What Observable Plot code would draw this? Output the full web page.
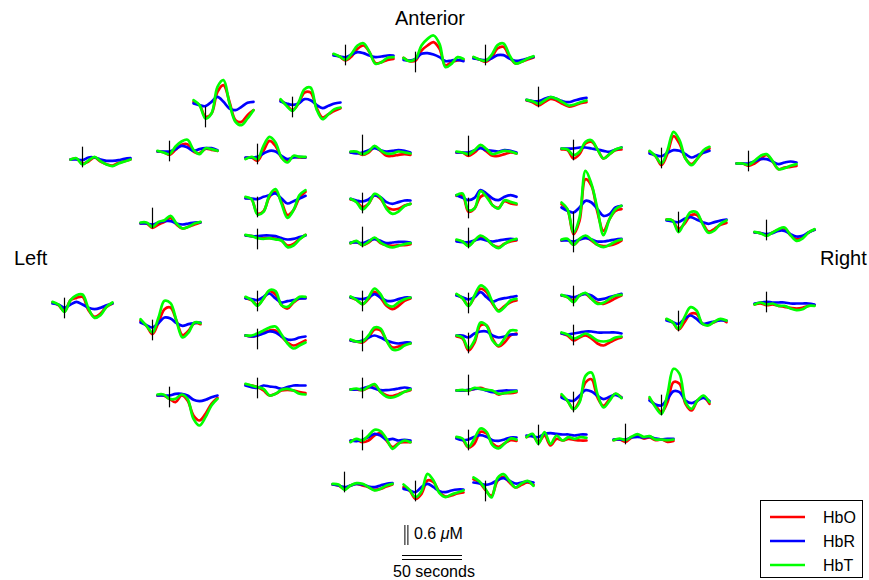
<!DOCTYPE html>
<html><head><meta charset="utf-8">
<script src="https://cdn.jsdelivr.net/npm/d3@7"></script>
<script src="https://cdn.jsdelivr.net/npm/@observablehq/plot@0.6"></script>
<style>
body{margin:0;background:#fff;}
#chart{position:relative;width:869px;height:580px;overflow:hidden;font-family:"Liberation Sans",Arial,Helvetica,sans-serif;color:#000;}
#chart svg{overflow:visible;}
.lbl{position:absolute;white-space:nowrap;line-height:1;}
</style></head><body><div id="chart"></div>
<script>
// time axis (seconds relative to stimulus onset)
const times = [-10,-5,0,5,10,15,20,25,30,35,40];
const seriesNames = ["HbO","HbR","HbT"];
const seriesColors = ["#ff0000","#0000ff","#00ff00"];

// HbO per channel (μM)
const hbo = [
[0,0.02,-0.12,-0.06,0.06,-0.06,-0.14,-0.18,-0.1,-0.05,0],
[0,-0.02,-0.1,0.05,0.2,0.22,0,-0.05,0.08,0.05,0.02],
[0.05,-0.05,-0.4,-0.3,0.35,0.55,0.05,-0.5,-0.55,-0.35,-0.2],
[0.06,0,-0.12,0,0.23,0.33,0.13,-0.2,-0.17,-0.1,-0.07],
[0.08,-0.02,0,0.3,0.45,0.55,0.35,-0.15,-0.05,0,0.02],
[0.07,-0.07,-0.23,-0.03,0.3,0.3,-0.15,-0.45,-0.35,-0.25,-0.17],
[-0.02,0,-0.1,0.2,0.5,0.35,0,-0.1,0.02,0,0],
[0,0,-0.07,0,0.15,0.05,-0.1,-0.1,-0.07,-0.05,-0.07],
[0.03,-0.03,-0.1,0.03,0.3,0.35,0.05,-0.15,-0.1,-0.03,0.03],
[0,-0.05,-0.15,-0.05,0.05,0,-0.1,-0.18,-0.15,-0.08,-0.05],
[0,0,-0.1,0,0.15,0.03,-0.1,-0.1,-0.05,0,-0.03],
[-0.03,-0.05,-0.3,-0.17,0.15,0.2,-0.03,-0.3,-0.17,-0.05,-0.03],
[0.05,-0.08,-0.35,0,0.52,0.3,-0.15,-0.32,-0.15,0.05,0.15],
[0,0,-0.07,0,0.13,0.26,0.06,-0.17,-0.12,-0.1,-0.07],
[0,0,-0.13,-0.03,0.05,0.17,-0.03,-0.15,-0.1,-0.03,0.03],
[0.03,-0.05,-0.23,0.1,0.17,0.2,-0.2,-0.4,-0.3,-0.1,0],
[0.05,-0.1,-0.35,0,0.4,0.45,0.05,-0.38,-0.25,-0.02,-0.05],
[0.02,-0.02,-0.45,-0.38,0.05,0.2,-0.1,-0.5,-0.35,0.02,0.2],
[0,-0.02,-0.05,-0.08,-0.08,-0.1,-0.15,-0.3,-0.25,-0.1,0.02],
[0.03,-0.03,-0.2,-0.1,0.17,0.05,-0.2,-0.27,-0.25,-0.15,-0.1],
[-0.02,0.02,-0.08,0,0.12,-0.02,-0.08,-0.1,-0.08,-0.08,-0.05],
[0.02,-0.05,-0.2,0,0.22,0.12,-0.2,-0.3,-0.12,0,0.02],
[0,-0.03,0,0.09,0.15,0.15,-0.03,-0.21,-0.3,-0.24,-0.15],
[0,-0.07,-0.2,-0.05,0.17,0,-0.25,-0.35,-0.25,-0.1,-0.03],
[0,-0.03,-0.06,0.09,0.33,0.3,0,-0.21,-0.18,-0.12,-0.09],
[0.08,0.1,-0.4,-0.3,0.05,0.1,-0.2,-0.28,-0.08,-0.15,-0.18],
[0.1,-0.07,-0.8,-0.4,0.85,0.65,-0.15,-0.7,-0.35,-0.1,-0.05],
[0.03,0,-0.12,0.03,0.13,0.06,-0.1,-0.17,-0.07,0,0.03],
[0,0.03,-0.13,0.03,0.1,0,-0.13,-0.17,-0.15,-0.1,0],
[0.02,-0.08,-0.3,-0.05,0.2,0.1,-0.25,-0.45,-0.32,-0.2,-0.15],
[0,-0.05,-0.15,0,0.05,-0.1,-0.22,-0.25,-0.18,-0.08,0],
[-0.03,-0.09,-0.45,-0.21,0.3,0.3,-0.09,-0.33,-0.21,0,0.06],
[0,-0.06,-0.21,-0.12,-0.06,-0.15,-0.3,-0.36,-0.27,-0.18,-0.12],
[0.03,0,-0.25,-0.1,0.15,0.17,-0.07,-0.33,-0.25,-0.13,-0.07],
[0,-0.02,-0.08,0,0.08,0.12,-0.08,-0.2,-0.15,0,0.08],
[0.03,-0.05,-0.27,-0.05,0.2,0.2,-0.1,-0.1,-0.05,0.03,-0.05],
[-0.03,0,-0.05,-0.03,-0.07,-0.1,-0.13,-0.15,-0.13,-0.07,-0.05],
[0,0,-0.1,-0.2,0,-0.15,-0.6,-0.75,-0.55,-0.25,-0.07],
[0.03,0,-0.05,-0.15,-0.3,-0.25,-0.15,-0.13,-0.15,-0.2,-0.23],
[0,0,-0.02,0.06,0.13,-0.07,-0.17,-0.2,-0.14,-0.07,-0.02],
[-0.02,0.02,-0.05,0,0.15,0.22,0,-0.2,-0.08,-0.05,-0.05],
[0,-0.03,-0.13,-0.03,0.02,-0.03,-0.08,-0.16,-0.13,-0.06,0],
[0.1,0,-0.25,-0.1,0.3,0.25,-0.05,-0.18,-0.15,-0.09,-0.06],
[0,0,0,0.05,0.08,0.02,-0.02,-0.12,-0.08,-0.08,-0.05],
[0.05,-0.1,-0.35,-0.1,0.45,0.55,0,-0.25,-0.05,0.1,0],
[0.03,-0.03,-0.27,-0.15,0.2,0.15,-0.15,-0.25,-0.15,-0.05,-0.07],
[-0.05,0,-0.2,0,-0.3,-0.1,-0.15,-0.1,-0.13,-0.15,-0.15],
[-0.02,0,-0.07,0.06,0.13,0.03,0.06,-0.02,0,-0.07,-0.04],
[0.13,0.03,-0.2,-0.37,0.08,0.2,0.03,-0.12,-0.04,0.03,-0.04],
[0.05,-0.15,-0.35,-0.05,0.55,0.5,-0.1,-0.3,0,0.1,-0.1]
];

// HbR per channel (μM)
const hbr = [
[0,0,-0.02,0.06,0.06,0,-0.04,-0.04,-0.02,0.02,0.04],
[0,0,0,0.07,0.17,0.12,0.02,0.07,0.1,0.1,0.04],
[0,-0.05,-0.08,0.05,0.2,0.05,-0.15,-0.2,-0.1,0.02,0.05],
[0.03,0,-0.02,0.06,0.13,0.1,0.03,-0.02,0,0.03,0.03],
[0.02,0,0.05,0.2,0.22,0.18,0.1,-0.02,0,0.02,-0.02],
[0.03,-0.03,-0.07,-0.03,0.1,0.07,-0.07,-0.17,-0.1,-0.03,0],
[0,0,0.02,0.12,0.2,0.18,0.05,-0.05,0,0.02,0],
[0,-0.03,0,0.07,0.13,0.07,0.03,0.05,0.07,0.05,0],
[0,-0.03,-0.05,0,0.1,0.1,0,-0.07,-0.05,0,0.05],
[0.02,-0.02,-0.02,0.05,0.1,0.05,-0.02,-0.05,0,0.05,0.08],
[0,0,0,0.07,0.13,0.07,0.05,0.03,0.07,0.05,0],
[0,0,0,0.03,0.03,0,-0.03,-0.07,-0.1,-0.03,0.03],
[0,-0.05,-0.08,0.02,0.1,0.08,-0.02,-0.12,-0.05,0.02,0.08],
[0,0,0,0.06,0.13,0.13,0.06,-0.02,0.03,0.06,0.03],
[0,0,-0.03,0.03,0.07,0.07,0,-0.03,0,0.03,0.03],
[0,-0.03,-0.13,-0.03,0.05,-0.03,-0.13,-0.17,-0.13,-0.05,0],
[0,-0.08,-0.15,-0.02,0.15,0.12,-0.02,-0.1,-0.05,-0.02,0],
[0,0,-0.02,0.05,0.1,0.15,0,-0.15,-0.08,0,0.08],
[0,-0.02,-0.02,0,0,-0.02,-0.08,-0.12,-0.1,-0.05,0],
[0.05,0,-0.03,0.03,0.15,0.1,-0.05,-0.1,-0.05,0,0],
[0,0,-0.02,0.05,0.1,0.05,-0.02,0,0.02,0.02,0],
[0,-0.02,-0.05,0.05,0.15,0,-0.12,-0.08,-0.05,0,0],
[0,-0.03,0,0.06,0.12,0.09,-0.03,-0.12,-0.12,-0.06,-0.03],
[0,-0.03,-0.05,0,0.1,0,-0.1,-0.1,-0.05,0,0],
[0,-0.03,0,0.09,0.15,0.09,0,-0.06,-0.09,-0.06,-0.06],
[0.1,0.02,-0.05,0.02,0.25,0.15,0,-0.05,0.05,0.1,0.05],
[0,-0.1,-0.15,0,0.2,0.15,-0.05,-0.25,-0.2,0,0.05],
[0,-0.02,-0.02,0.03,0.08,0.03,0,0.03,0.06,0.08,0.06],
[0,0,-0.03,0.03,0.07,0.03,-0.03,-0.03,0,0.03,0.05],
[0,-0.05,-0.12,-0.05,0.1,-0.05,-0.18,-0.12,-0.08,-0.05,-0.02],
[0,-0.02,-0.05,0,0.05,0,-0.12,-0.1,-0.05,0,0.05],
[0,0,-0.06,0.06,0.12,0.12,0,-0.06,-0.03,0.03,0.03],
[0,-0.03,0,0.03,0.06,0.06,0.03,0.03,0.03,0.03,0],
[0,-0.03,-0.05,0.05,0.1,0.03,-0.05,-0.1,-0.05,0,0.03],
[0,-0.02,-0.05,-0.02,0.05,0.05,-0.05,-0.12,-0.1,0,0.08],
[0,-0.05,-0.1,0.05,0.15,0.05,-0.1,-0.07,-0.03,0,0],
[0,0.03,0.05,0.03,0.03,0.03,0,0,0,0,-0.03],
[0,0,0,0.05,0.05,0,-0.13,-0.17,-0.13,-0.05,0],
[0,-0.05,-0.07,0,-0.03,-0.05,-0.1,-0.05,0,0,0],
[0,0,0.03,0.08,0.03,-0.02,-0.02,0,0.03,0.06,0.03],
[0,-0.02,0.02,0.1,0.2,0.15,0.02,0.05,0,0.02,0],
[0,-0.03,-0.08,-0.03,0.02,0,-0.06,-0.08,-0.03,0.02,0.04],
[0.05,0,-0.05,0.1,0.2,0.1,-0.02,-0.05,0,0.03,0.03],
[0,0,0.02,0.05,0.05,0,-0.05,-0.02,0,0,0],
[0,-0.08,-0.1,0.05,0.22,0.18,0.05,-0.05,0.02,0.08,0],
[0,-0.05,-0.03,0.05,0.1,0.05,-0.05,-0.07,-0.03,0.03,0.03],
[0,-0.03,-0.05,0.05,0.07,0.05,0.03,0.03,0,0.03,0.03],
[0,0,0,0.06,0.08,0.06,0.08,0.03,0,0.02,0.02],
[0.03,0,-0.04,0,0.1,0.16,0.08,0,0.03,0.06,0.03],
[0,-0.12,-0.15,0.05,0.28,0.25,0,-0.08,0,0.08,-0.02]
];

// HbT per channel (μM)
const hbt = [
[0,0.04,-0.15,-0.03,0.08,-0.05,-0.15,-0.2,-0.12,-0.06,0],
[0.02,-0.03,-0.08,0.15,0.3,0.35,0.05,-0.08,0.1,0.07,0.02],
[0.1,-0.05,-0.45,-0.3,0.5,0.7,0,-0.55,-0.65,-0.45,-0.2],
[0.08,0,-0.1,0.08,0.33,0.4,0.13,-0.22,-0.17,-0.04,-0.02],
[0.08,-0.02,0.05,0.45,0.65,0.75,0.5,-0.2,-0.1,0.1,0.05],
[0.1,-0.1,-0.25,0,0.4,0.45,-0.2,-0.5,-0.35,-0.2,-0.15],
[-0.05,0.02,-0.05,0.35,0.62,0.45,0,-0.15,0.05,0.02,0.02],
[0.03,0.03,-0.05,0.03,0.2,0.07,-0.03,-0.03,0.03,0,-0.03],
[0.05,-0.03,-0.07,0.1,0.4,0.45,0.1,-0.15,-0.1,0,0.07],
[0.02,-0.02,-0.1,0,0.1,0.05,-0.05,-0.15,-0.12,-0.05,0],
[0.03,0,-0.05,0.07,0.23,0.1,-0.05,0,0.05,0.03,-0.03],
[0,-0.03,-0.2,-0.1,0.2,0.25,-0.03,-0.3,-0.17,-0.03,0.03],
[0.08,-0.08,-0.3,0.1,0.65,0.4,-0.15,-0.35,-0.15,0.1,0.2],
[0,0,-0.04,0.08,0.23,0.28,0.08,-0.17,-0.14,-0.07,-0.02],
[0.03,0.03,-0.1,0.05,0.1,0.23,0,-0.15,-0.1,0,0.05],
[0.05,-0.03,-0.25,0.1,0.25,0.27,-0.15,-0.43,-0.35,-0.1,0.03],
[0.1,-0.1,-0.3,0.15,0.65,0.58,0.05,-0.45,-0.3,0,-0.02],
[0.05,-0.02,-0.48,-0.4,0.1,0.28,-0.15,-0.58,-0.35,0.1,0.25],
[0.02,-0.02,-0.08,-0.1,-0.08,-0.12,-0.15,-0.35,-0.3,-0.12,0.02],
[0.05,-0.05,-0.27,-0.1,0.2,0.1,-0.25,-0.4,-0.33,-0.17,-0.1],
[-0.02,0.05,-0.08,0.02,0.15,0,-0.1,-0.15,-0.1,-0.05,-0.02],
[0.05,-0.05,-0.22,0,0.25,0.22,-0.2,-0.25,-0.1,0.05,0.05],
[0,0,0.06,0.15,0.24,0.27,0.03,-0.24,-0.39,-0.3,-0.21],
[0.03,-0.07,-0.2,0,0.27,0.1,-0.2,-0.27,-0.15,-0.05,0],
[0.03,-0.03,-0.03,0.15,0.39,0.36,0,-0.27,-0.27,-0.15,-0.09],
[0.1,0.15,-0.35,-0.3,0.22,0.05,-0.2,-0.3,-0.05,-0.1,-0.15],
[0.15,-0.05,-0.75,-0.3,1.1,0.7,-0.05,-0.83,-0.35,-0.05,0.05],
[0.06,0,-0.14,0.03,0.18,0.08,-0.1,-0.2,-0.07,0.03,0.08],
[0.03,0.05,-0.13,0.05,0.15,0.03,-0.13,-0.2,-0.13,-0.03,0.03],
[0.05,-0.08,-0.32,0,0.3,0.18,-0.2,-0.48,-0.35,-0.15,-0.1],
[0.02,-0.05,-0.2,0,0.08,-0.1,-0.25,-0.22,-0.1,0,0.02],
[0,-0.06,-0.39,-0.15,0.39,0.3,-0.15,-0.3,-0.09,0.15,0.15],
[0.03,-0.03,-0.15,-0.09,0,-0.09,-0.21,-0.24,-0.21,-0.12,-0.09],
[0.03,0,-0.35,-0.05,0.25,0.25,-0.1,-0.37,-0.3,-0.1,0],
[0.02,-0.02,-0.1,0,0.1,0.15,-0.08,-0.25,-0.18,0,0.1],
[0.05,-0.05,-0.25,0.1,0.4,0.3,-0.1,-0.15,-0.03,0.05,0],
[-0.03,0.03,-0.03,0,-0.07,-0.07,-0.15,-0.2,-0.17,-0.07,-0.07],
[0.03,0.03,-0.1,-0.1,0.03,-0.1,-0.7,-0.9,-0.65,-0.3,-0.1],
[0.05,0,-0.05,-0.1,-0.3,-0.25,-0.13,-0.1,-0.15,-0.25,-0.27],
[0,0.03,-0.02,0.08,0.16,-0.07,-0.22,-0.24,-0.17,-0.07,0],
[-0.05,0.05,0,0.15,0.32,0.28,0.05,-0.25,-0.1,0,-0.05],
[0.02,0,-0.16,-0.03,0.04,0.02,-0.08,-0.18,-0.13,-0.03,0.02],
[0.18,0.02,-0.2,-0.02,0.5,0.3,-0.08,-0.2,-0.12,-0.06,0],
[0,0.02,0,0.08,0.05,0.02,0,-0.1,-0.08,-0.05,-0.02],
[0.1,-0.1,-0.35,-0.15,0.65,0.75,0.1,-0.3,-0.1,0.12,-0.02],
[0.05,0,-0.25,0,0.3,0.2,-0.2,-0.3,-0.15,0,-0.03],
[-0.05,0.05,-0.25,0.1,-0.25,0,-0.15,-0.05,-0.1,-0.05,-0.07],
[-0.02,0.03,-0.02,0.08,0.16,0.08,0.1,0,0,-0.02,0],
[0.18,0.06,-0.17,-0.42,0.16,0.28,0.08,-0.12,0,0.08,-0.07],
[0.1,-0.2,-0.4,0.2,0.95,0.8,-0.05,-0.25,0,0.15,-0.05]
];

// layout of each channel panel: [onset x px, baseline y px, onset-marker centre y px]
const layout = [
[82,159,157],[169,151,151],[205,103,117],[345,56,55],[415,60,62],[292,102,107],
[257,157,154],[362,152,145],[485,58,55],[538,100,97],[468,152,146],[573,148,150],
[661,153,158],[748,163,161],[152,223,218],[64,303,308],[152,322,330],[257,198,207],
[257,235,239],[362,200,203],[362,242,237],[257,298,301],[257,335,339],[362,297,301],
[362,340,341],[468,198,208],[573,207,222],[468,241,238],[573,240,242],[468,295,303],
[573,295,296],[468,335,343],[573,333,335],[678,220,222],[766,232,230],[678,320,321],
[766,303,302],[169,395,397],[257,385,388],[362,389,388],[362,440,440],[344,484,482],
[415,490,491],[468,390,385],[573,397,402],[468,438,440],[538,435,435],[625,439,434],
[485,483,491],[661,400,405]
];

const PX_PER_UM = 100/3;   // 0.6 μM = 20 px
const PW = 60, PH = 120;   // panel box: 50 s wide
const chart = document.getElementById("chart");

layout.forEach(([lx, by, my], i) => {
  const rows = [];
  const src = [hbo[i], hbr[i], hbt[i]];
  seriesNames.forEach((s, k) => times.forEach((t, j) => rows.push({t, v: src[k][j], s})));
  const mid = (by - my) / PX_PER_UM;
  const half = PH / 2 / PX_PER_UM;
  const svg = Plot.plot({
    width: PW, height: PH, margin: 0,
    style: {background: "transparent", overflow: "visible"},
    x: {domain: [-10, 40], axis: null},
    y: {domain: [-half, half], axis: null},
    color: {domain: seriesNames, range: seriesColors},
    marks: [
      Plot.line(rows, {x: "t", y: "v", z: "s", stroke: "s", strokeWidth: 2.7, curve: "catmull-rom", strokeLinejoin: "round", strokeLinecap: "round"}),
      Plot.ruleX([0], {y1: mid - 0.31, y2: mid + 0.31, stroke: "#000", strokeWidth: 1.2})
    ]
  });
  svg.style.position = "absolute";
  svg.style.left = (lx - 12) + "px";
  svg.style.top = (by - PH / 2) + "px";
  svg.style.maxWidth = "none";
  chart.appendChild(svg);
});

// scale bars: 0.6 μM and 50 seconds, drawn with the same scales as the panels
const scaleH = 60;
const sb = Plot.plot({
  width: 60, height: scaleH, margin: 0,
  style: {background: "transparent", overflow: "visible"},
  x: {domain: [0, 50], axis: null},
  y: {domain: [0, scaleH / PX_PER_UM], axis: null},
  marks: [
    Plot.ruleY([0, 0.12], {x1: 0, x2: 50, stroke: "#000", strokeWidth: 1}),
    Plot.ruleX([2, 4.5], {y1: 0.42, y2: 0.42 + 0.6, stroke: "#000", strokeWidth: 1})
  ]
});
sb.style.position = "absolute";
sb.style.left = "402px";
sb.style.top = (559 - scaleH) + "px";
sb.style.maxWidth = "none";
chart.appendChild(sb);

function label(html, left, top, size, extra) {
  const d = document.createElement("div");
  d.className = "lbl";
  d.innerHTML = html;
  d.style.left = left + "px";
  d.style.top = top + "px";
  d.style.fontSize = size + "px";
  if (extra) Object.assign(d.style, extra);
  chart.appendChild(d);
}
label("Anterior", 430, 8, 20, {transform: "translateX(-50%)"});
label("Left", 14, 248, 20);
label("Right", 820, 248, 20);
label("0.6 <i>μ</i>M", 414, 526, 16);
label("50 seconds", 434, 564, 16, {transform: "translateX(-50%)"});

// legend
const ns = "http://www.w3.org/2000/svg";
const lg = document.createElementNS(ns, "svg");
lg.setAttribute("width", 103); lg.setAttribute("height", 78);
lg.style.position = "absolute"; lg.style.left = "760px"; lg.style.top = "500px";
const box = document.createElementNS(ns, "rect");
box.setAttribute("x", 0.5); box.setAttribute("y", 0.5); box.setAttribute("width", 102); box.setAttribute("height", 77);
box.setAttribute("fill", "#fff"); box.setAttribute("stroke", "#000"); box.setAttribute("stroke-width", 1);
lg.appendChild(box);
seriesNames.forEach((s, k) => {
  const y = 17 + k * 24;
  const ln = document.createElementNS(ns, "line");
  ln.setAttribute("x1", 10); ln.setAttribute("x2", 45); ln.setAttribute("y1", y); ln.setAttribute("y2", y);
  ln.setAttribute("stroke", seriesColors[k]); ln.setAttribute("stroke-width", 2.7);
  lg.appendChild(ln);
  const tx = document.createElementNS(ns, "text");
  tx.setAttribute("x", 63); tx.setAttribute("y", y + 6);
  tx.setAttribute("font-size", 16); tx.setAttribute("font-family", "Liberation Sans, Arial, sans-serif");
  tx.textContent = s;
  lg.appendChild(tx);
});
chart.appendChild(lg);
</script>
</body></html>
